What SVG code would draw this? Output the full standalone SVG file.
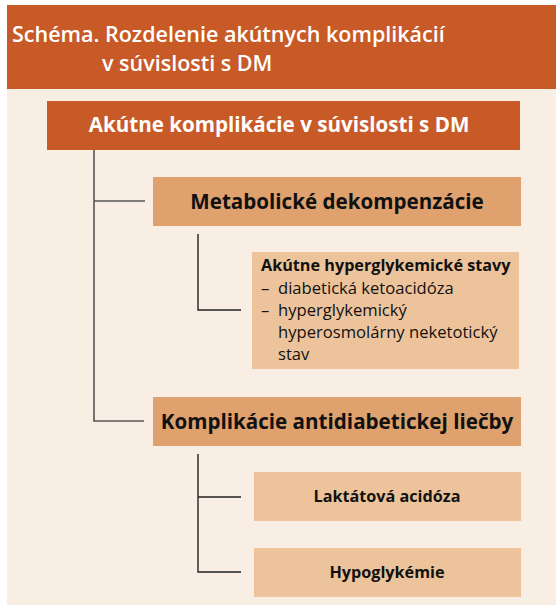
<svg xmlns="http://www.w3.org/2000/svg" width="556" height="605" viewBox="0 0 556 605">
<style>
text{font-family:"Open Sans","Noto Sans",sans-serif}
.t{font-size:21.5px;font-weight:600;fill:#fff}
.b1{font-size:20.6px;font-weight:700;fill:#fff}
.b2{font-size:20.6px;font-weight:700;fill:#111}
.s{font-size:16.6px;fill:#111}
.sb{font-size:16.2px;font-weight:700;fill:#111}
.ln{fill:none;stroke:#222;stroke-width:1.4}
.ln0{fill:none;stroke:#555;stroke-width:1.6}
</style>
<rect x="0" y="0" width="556" height="605" fill="#fff"/>
<rect x="7" y="89" width="549" height="516" fill="#F8EEE4"/>
<g id="title">
<rect x="7" y="5" width="549" height="84" fill="#C85A28"/>
<text class="t" x="12" y="42">Schéma. Rozdelenie akútnych komplikácií</text>
<text class="t" x="102" y="71">v súvislosti s DM</text>
</g>
<g id="connectors">
<path class="ln0" d="M94,150 V421 H144 M94,201 H145"/>
<path class="ln" d="M198,234 V310 H241"/>
<path class="ln" d="M198,454 V572 H241 M198,497 H241"/>
</g>
<g id="n1">
<rect x="47" y="101" width="473" height="49" fill="#C85A28"/>
<text class="b1" x="279" y="132" text-anchor="middle">Akútne komplikácie v súvislosti s DM</text>
</g>
<g id="n2">
<rect x="153" y="177" width="368" height="49" fill="#DFA16D"/>
<text class="b2" x="337" y="209" text-anchor="middle">Metabolické dekompenzácie</text>
</g>
<g id="n3">
<rect x="252" y="252" width="267" height="117" fill="#EDC39B"/>
<text class="sb" x="261" y="271">Akútne hyperglykemické stavy</text>
<text class="s" x="261" y="294">–</text>
<text class="s" x="278" y="294">diabetická ketoacidóza</text>
<text class="s" x="261" y="316">–</text>
<text class="s" x="278" y="316">hyperglykemický</text>
<text class="s" x="278" y="338">hyperosmolárny neketotický</text>
<text class="s" x="278" y="360">stav</text>
</g>
<g id="n4">
<rect x="153" y="397" width="368" height="49" fill="#DFA16D"/>
<text class="b2" x="337" y="429" text-anchor="middle">Komplikácie antidiabetickej liečby</text>
</g>
<g id="n5">
<rect x="254" y="472" width="267" height="49" fill="#EDC39B"/>
<text class="sb" x="387" y="502" text-anchor="middle">Laktátová acidóza</text>
</g>
<g id="n6">
<rect x="254" y="548" width="267" height="49" fill="#EDC39B"/>
<text class="sb" x="387" y="578" text-anchor="middle">Hypoglykémie</text>
</g>
</svg>
